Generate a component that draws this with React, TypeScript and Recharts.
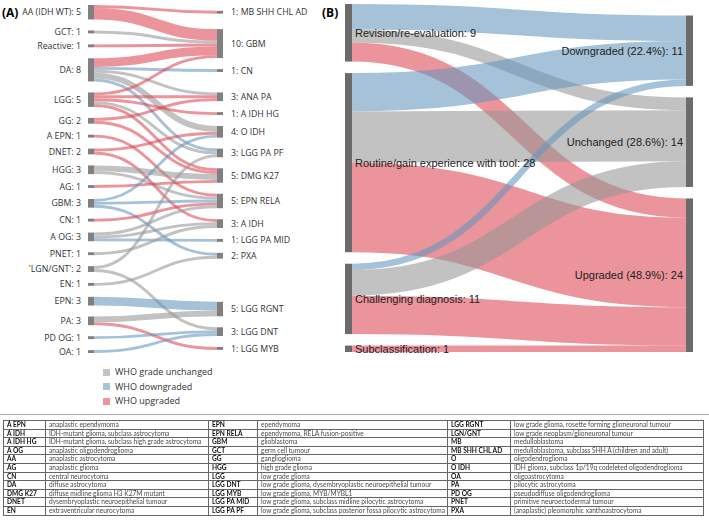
import React from 'react';
import { Sankey } from 'recharts';

type Kind = 'same' | 'down' | 'up';

// ---- panel A: original diagnosis -> methylation class ----
const originalA = [
  'AA (IDH WT)', 'GCT', 'Reactive', 'DA', 'LGG', 'GG', 'A EPN', 'DNET', 'HGG', 'AG',
  'GBM', 'CN', 'A OG', 'PNET', "'LGN/GNT'", 'EN', 'EPN', 'PA', 'PD OG', 'OA',
];
const classA = [
  'MB SHH CHL AD', 'GBM', 'CN', 'ANA PA', 'A IDH HG', 'O IDH', 'LGG PA PF', 'DMG K27',
  'EPN RELA', 'A IDH', 'LGG PA MID', 'PXA', 'LGG RGNT', 'LGG DNT', 'LGG MYB',
];
const flowsA: [string, string, number, Kind][] = [
  ['AA (IDH WT)', 'MB SHH CHL AD', 1, 'up'],
  ['AA (IDH WT)', 'GBM', 4, 'up'],
  ['GCT', 'GBM', 1, 'same'],
  ['Reactive', 'GBM', 1, 'up'],
  ['DA', 'GBM', 3, 'up'],
  ['DA', 'CN', 1, 'down'],
  ['DA', 'ANA PA', 1, 'same'],
  ['DA', 'O IDH', 2, 'same'],
  ['DA', 'LGG PA PF', 1, 'down'],
  ['LGG', 'GBM', 1, 'up'],
  ['LGG', 'ANA PA', 1, 'up'],
  ['LGG', 'A IDH HG', 1, 'up'],
  ['LGG', 'LGG PA PF', 1, 'same'],
  ['LGG', 'DMG K27', 1, 'up'],
  ['GG', 'ANA PA', 1, 'up'],
  ['GG', 'DMG K27', 1, 'up'],
  ['A EPN', 'EPN RELA', 1, 'up'],
  ['DNET', 'O IDH', 1, 'up'],
  ['DNET', 'A IDH', 1, 'up'],
  ['HGG', 'DMG K27', 2, 'same'],
  ['HGG', 'EPN RELA', 1, 'same'],
  ['AG', 'DMG K27', 1, 'up'],
  ['GBM', 'O IDH', 1, 'down'],
  ['GBM', 'EPN RELA', 1, 'down'],
  ['GBM', 'PXA', 1, 'down'],
  ['CN', 'EPN RELA', 1, 'up'],
  ['A OG', 'EPN RELA', 1, 'same'],
  ['A OG', 'A IDH', 1, 'same'],
  ['A OG', 'LGG PA MID', 1, 'down'],
  ['PNET', 'A IDH', 1, 'same'],
  ["'LGN/GNT'", 'LGG PA PF', 1, 'same'],
  ["'LGN/GNT'", 'LGG DNT', 1, 'same'],
  ['EN', 'PXA', 1, 'same'],
  ['EPN', 'LGG RGNT', 3, 'down'],
  ['PA', 'LGG RGNT', 2, 'same'],
  ['PA', 'LGG MYB', 1, 'up'],
  ['PD OG', 'LGG DNT', 1, 'down'],
  ['OA', 'LGG DNT', 1, 'down'],
];

// ---- panel B: reason -> grade change ----
const reasonsB = [
  'Revision/re-evaluation',
  'Routine/gain experience with tool',
  'Challenging diagnosis',
  'Subclassification',
];
const outcomesB = ['Downgraded (22.4%)', 'Unchanged (28.6%)', 'Upgraded (48.9%)'];
const outcomeKinds: Kind[] = ['down', 'same', 'up'];
const flowsB: [string, string, number][] = [
  ['Revision/re-evaluation', 'Downgraded (22.4%)', 4],
  ['Revision/re-evaluation', 'Unchanged (28.6%)', 2],
  ['Revision/re-evaluation', 'Upgraded (48.9%)', 3],
  ['Routine/gain experience with tool', 'Downgraded (22.4%)', 6],
  ['Routine/gain experience with tool', 'Unchanged (28.6%)', 8],
  ['Routine/gain experience with tool', 'Upgraded (48.9%)', 14],
  ['Challenging diagnosis', 'Downgraded (22.4%)', 1],
  ['Challenging diagnosis', 'Unchanged (28.6%)', 4],
  ['Challenging diagnosis', 'Upgraded (48.9%)', 6],
  ['Subclassification', 'Upgraded (48.9%)', 1],
];

const legendItems: [Kind, string][] = [
  ['same', 'WHO grade unchanged'],
  ['down', 'WHO downgraded'],
  ['up', 'WHO upgraded'],
];

// abbreviation table, three column pairs
const abbrCol1: [string, string][] = [
  ['A EPN', 'anaplastic ependymoma'],
  ['A IDH', 'IDH-mutant glioma, subclass astrocytoma'],
  ['A IDH HG', 'IDH-mutant glioma, subclass high grade astrocytoma'],
  ['A OG', 'anaplastic oligodendroglioma'],
  ['AA', 'anaplastic astrocytoma'],
  ['AG', 'anaplastic glioma'],
  ['CN', 'central neurocytoma'],
  ['DA', 'diffuse astrocytoma'],
  ['DMG K27', 'diffuse midline glioma H3 K27M mutant'],
  ['DNET', 'dysembryoplastic neuroepithelial tumour'],
  ['EN', 'extraventricular neurocytoma'],
];
const abbrCol2: [string, string][] = [
  ['EPN', 'ependymoma'],
  ['EPN RELA', 'ependymoma, RELA fusion-positive'],
  ['GBM', 'glioblastoma'],
  ['GCT', 'germ cell tumour'],
  ['GG', 'ganglioglioma'],
  ['HGG', 'high grade glioma'],
  ['LGG', 'low grade glioma'],
  ['LGG DNT', 'low grade glioma, dysembryoplastic neuroepithelial tumour'],
  ['LGG MYB', 'low grade glioma, MYB/MYBL1'],
  ['LGG PA MID', 'low grade glioma, subclass midline pilocytic astrocytoma'],
  ['LGG PA PF', 'low grade glioma, subclass posterior fossa pilocytic astrocytoma'],
];
const abbrCol3: [string, string][] = [
  ['LGG RGNT', 'low grade glioma, rosette forming glioneuronal tumour'],
  ['LGN/GNT', 'low grade neoplasm/glioneuronal tumour'],
  ['MB', 'medulloblastoma'],
  ['MB SHH CHL AD', 'medulloblastoma, subclass SHH A (children and adult)'],
  ['O', 'oligodendroglioma'],
  ['O IDH', 'IDH glioma, subclass 1p/19q codeleted oligodendroglioma'],
  ['OA', 'oligoastrocytoma'],
  ['PA', 'pilocytic astrocytoma'],
  ['PD OG', 'pseudodiffuse oligodendroglioma'],
  ['PNET', 'primitive neuroectodermal tumour'],
  ['PXA', '(anaplastic) pleomorphic xanthoastrocytoma'],
];

const LINK_COLORS: Record<Kind, string> = {
  same: 'rgba(150,150,150,0.58)',
  down: 'rgba(100,150,190,0.58)',
  up: 'rgba(220,70,82,0.58)',
};
const SWATCH: Record<Kind, string> = { same: '#c4c4c4', down: '#a9c4d9', up: '#e8969a' };

const FONT_A = '"Open Sans", "Noto Sans", sans-serif';
const FONT_B = '"Liberation Sans", Arial, sans-serif';
const FONT_T = 'Lato, "Open Sans", sans-serif';

const dataA = {
  nodes: [...originalA, ...classA].map((name) => ({ name })),
  links: flowsA.map(([s, t, value, kind]) => ({
    source: originalA.indexOf(s),
    target: originalA.length + classA.indexOf(t),
    value,
    kind,
  })),
};

const dataB = {
  nodes: [...reasonsB, ...outcomesB].map((name) => ({ name })),
  links: flowsB.map(([s, t, value]) => ({
    source: reasonsB.indexOf(s),
    target: reasonsB.length + outcomesB.indexOf(t),
    value,
    kind: outcomeKinds[outcomesB.indexOf(t)],
  })),
};

function LinkPath(props: any) {
  const { sourceX, sourceY, sourceControlX, targetX, targetY, targetControlX, linkWidth, payload } = props;
  return (
    <path
      d={`M${sourceX},${sourceY} C${sourceControlX},${sourceY} ${targetControlX},${targetY} ${targetX},${targetY}`}
      fill="none"
      stroke={LINK_COLORS[payload.kind as Kind]}
      strokeWidth={Math.max(linkWidth, 1)}
    />
  );
}

function NodeA(props: any) {
  const { x, y, width, height, payload } = props;
  const isLeft = x < 150;
  const label = isLeft ? `${payload.name}: ${payload.value}` : `${payload.value}: ${payload.name}`;
  return (
    <g>
      <rect x={x} y={y} width={width} height={height} fill="#808080" />
      <text
        x={isLeft ? x - 7 : x + width + 8}
        y={y + height / 2}
        dy="0.35em"
        textAnchor={isLeft ? 'end' : 'start'}
        fontFamily={FONT_A}
        fontSize={8.8}
        fill="#333"
      >
        {label}
      </text>
    </g>
  );
}

function NodeB(props: any) {
  const { x, y, width, height, payload } = props;
  const isLeft = x < 100;
  return (
    <g>
      <rect x={x} y={y} width={width} height={height} fill="#6b6b6b" />
      <text
        x={isLeft ? x + width + 3 : x - 3}
        y={y + height / 2}
        dy="0.35em"
        textAnchor={isLeft ? 'start' : 'end'}
        fontFamily={FONT_B}
        fontSize={11}
        fill="#222"
      >
        {`${payload.name}: ${payload.value}`}
      </text>
    </g>
  );
}

function AbbrTable() {
  const cell = { border: '1px solid #666', padding: '0 2px 0 3px', height: 7.6, whiteSpace: 'nowrap' as const, overflow: 'hidden' };
  const abbr = { ...cell, fontWeight: 700, color: '#111' };
  const desc = { ...cell, color: '#4a4a4a' };
  return (
    <table
      style={{
        position: 'absolute',
        left: 3,
        top: 420,
        width: 700,
        borderCollapse: 'collapse',
        tableLayout: 'fixed',
        fontFamily: FONT_T,
        fontSize: 6.6,
        lineHeight: '7.6px',
        border: '1.5px solid #333',
        transform: 'translateZ(0)',
      }}
    >
      <colgroup>
        <col style={{ width: 42 }} />
        <col style={{ width: 163 }} />
        <col style={{ width: 49 }} />
        <col style={{ width: 190 }} />
        <col style={{ width: 63 }} />
        <col style={{ width: 193 }} />
      </colgroup>
      <tbody>
        {abbrCol1.map((row, i) => (
          <tr key={row[0]}>
            <td style={abbr}>{row[0]}</td>
            <td style={desc}>{row[1]}</td>
            <td style={abbr}>{abbrCol2[i][0]}</td>
            <td style={desc}>{abbrCol2[i][1]}</td>
            <td style={abbr}>{abbrCol3[i][0]}</td>
            <td style={desc}>{abbrCol3[i][1]}</td>
          </tr>
        ))}
      </tbody>
    </table>
  );
}

export default function App() {
  return (
    <div style={{ position: 'absolute', left: 0, top: 0, width: 709, height: 520, background: '#fff', overflow: 'hidden' }}>
      <div style={{ position: 'absolute', left: 0, top: 0 }}>
        <Sankey
          width={330}
          height={360}
          data={dataA}
          nodeWidth={6}
          nodePadding={11}
          margin={{ top: 5, right: 107, bottom: 7, left: 88 }}
          iterations={32}
          sort={false}
          node={<NodeA />}
          link={<LinkPath />}
        />
      </div>
      <div style={{ position: 'absolute', left: 330, top: 0 }}>
        <Sankey
          width={379}
          height={360}
          data={dataB}
          nodeWidth={7}
          nodePadding={11.5}
          margin={{ top: 4, right: 16, bottom: 8, left: 15 }}
          iterations={32}
          sort={false}
          node={<NodeB />}
          link={<LinkPath />}
        />
      </div>
      <div style={{ position: 'absolute', left: 2, top: 4, fontFamily: FONT_A, fontWeight: 700, fontSize: 12 }}>(A)</div>
      <div style={{ position: 'absolute', left: 322, top: 4, fontFamily: FONT_A, fontWeight: 700, fontSize: 12 }}>(B)</div>
      {legendItems.map(([kind, label], i) => (
        <div
          key={kind}
          style={{
            position: 'absolute',
            left: 103,
            top: 366 + i * 14.5,
            fontFamily: FONT_A,
            fontSize: 9,
            color: '#333',
            display: 'flex',
            alignItems: 'center',
            lineHeight: '12px',
          }}
        >
          <span style={{ display: 'inline-block', width: 7, height: 7, background: SWATCH[kind], marginRight: 5 }} />
          {label}
        </div>
      ))}
      <div style={{ position: 'absolute', left: 0, top: 414, width: 709, height: 1, background: '#aaa' }} />
      <AbbrTable />
    </div>
  );
}
